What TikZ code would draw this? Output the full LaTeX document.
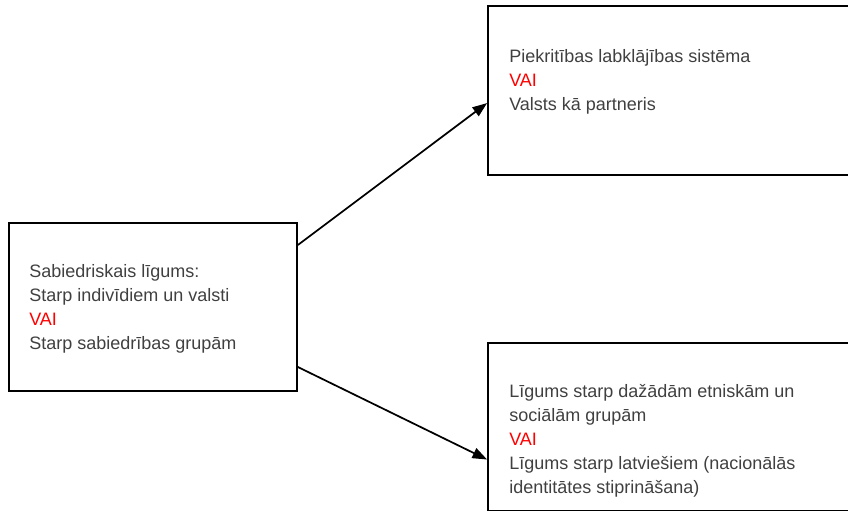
\documentclass[tikz,border=0pt]{standalone}
\usepackage{fontspec}
\setmainfont{Liberation Sans}
\usepackage{xcolor}
\usetikzlibrary{arrows.meta}

\definecolor{txtgray}{HTML}{404040}
\newcommand{\vai}{\textcolor{red}{VAI}}

\tikzset{
    box/.style={draw, line width=1.3pt, rectangle, inner sep=0pt},
    txt/.style={align=left, anchor=north west, inner sep=0pt, text=txtgray,
        font=\fontsize{13.5}{18}\selectfont},
    arr/.style={line width=1.3pt, -{Triangle[length=11pt,width=8pt]}}
}

\begin{document}
\begin{tikzpicture}[x=0.75pt,y=-0.75pt]
            \useasboundingbox (0,0) rectangle (848,510);
            \clip (0,0) rectangle (848,510);
            % boxes
            \node[box, minimum width=216pt, minimum height=126pt] (soc) at (153,307) {};
            \node[box, minimum width=285pt, minimum height=126.5pt] (welf) at (678,90.5) {};
            \node[box, minimum width=285pt, minimum height=126pt] (ethn) at (678,427) {};
            % texts
            \node[txt] (socT) at (29,264) {Sabiedriskais līgums:\\Starp indivīdiem un valsti\\\vai\\Starp sabiedrības grupām};
            \node[txt] (welfT) at (509,49) {Piekritības labklājības sistēma\\\vai\\Valsts kā partneris};
            \node[txt] (ethnT) at (509,384) {Līgums starp dažādām etniskām un\\sociālām grupām\\\vai\\Līgums starp latviešiem (nacionālās\\identitātes stiprināšana)};
            % arrows
            \draw[arr] ([yshift=46.5pt]soc.east) -- ([yshift=-9.4pt]welf.west);
            \draw[arr] ([yshift=-45pt]soc.east) -- ([yshift=-24.4pt]ethn.west);
\end{tikzpicture}
\end{document}
